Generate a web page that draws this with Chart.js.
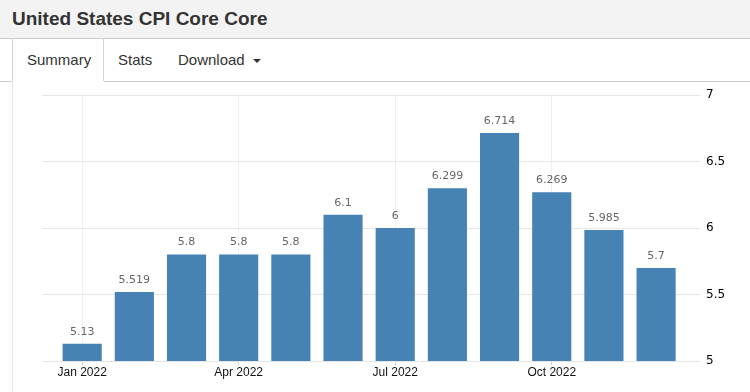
<!DOCTYPE html>
<html>
<head>
<meta charset="utf-8">
<script src="https://cdn.jsdelivr.net/npm/chart.js@4/dist/chart.umd.min.js"></script>
<style>
  html, body { margin: 0; padding: 0; background: #fff; }
  body { width: 750px; height: 392px; position: relative; overflow: hidden; font-family: "Liberation Sans", Arial, sans-serif; }
  #hdr { position: absolute; left: 0; top: 0; width: 750px; height: 38px; background: #f3f3f3; border-bottom: 1px solid #ccc; }
  #title { position: absolute; left: 12px; top: 9px; font-size: 19px; line-height: 19px; font-weight: bold; color: #333; white-space: nowrap; }
  .tab { position: absolute; top: 52px; font-size: 15px; line-height: 15px; color: #333; white-space: nowrap; }
  #caret { position: absolute; left: 253px; top: 59px; width: 0; height: 0; border-left: 4px solid transparent; border-right: 4px solid transparent; border-top: 4px solid #333; }
  .ln { position: absolute; background: #d5d5d5; }
  #chart { position: absolute; left: 0; top: 0; }
</style>
</head>
<body>
<div id="hdr"><div id="title">United States CPI Core Core</div></div>
<div class="ln" style="left:12px;top:39px;width:1px;height:42px;"></div>
<div class="ln" style="left:103px;top:39px;width:1px;height:42px;"></div>
<div class="ln" style="left:0;top:81px;width:12px;height:1px;background:#ccc;"></div>
<div class="ln" style="left:104px;top:81px;width:646px;height:1px;background:#ccc;"></div>
<div class="ln" style="left:12px;top:81px;width:1px;height:311px;background:#e8e8e8;"></div>
<div class="tab" style="left:27px;">Summary</div>
<div class="tab" style="left:118px;">Stats</div>
<div class="tab" style="left:178px;">Download</div>
<div id="caret"></div>
<canvas id="chart" width="750" height="392"></canvas>
<script>
const categories = ['Jan 2022','Feb 2022','Mar 2022','Apr 2022','May 2022','Jun 2022','Jul 2022','Aug 2022','Sep 2022','Oct 2022','Nov 2022','Dec 2022'];
const coreCpi = [5.13, 5.519, 5.8, 5.8, 5.8, 6.1, 6, 6.299, 6.714, 6.269, 5.985, 5.7];
const xTickIndex = [0, 3, 6, 9];
const yTickValues = [5, 5.5, 6, 6.5, 7];

const valueLabels = {
  id: 'valueLabels',
  afterDatasetsDraw(chart) {
    const ctx = chart.ctx;
    const meta = chart.getDatasetMeta(0);
    ctx.save();
    ctx.font = '11px "DejaVu Sans"';
    ctx.fillStyle = '#666';
    ctx.textAlign = 'center';
    ctx.textBaseline = 'middle';
    meta.data.forEach((bar, i) => ctx.fillText(String(coreCpi[i]), bar.x, bar.y - 12));
    ctx.restore();
  }
};

const xGridColor = (c) => (c.tick && xTickIndex.includes(c.tick.value)) ? '#efefef' : 'rgba(0,0,0,0)';
const xTickColor = (c) => (c.tick && xTickIndex.includes(c.tick.value)) ? '#ccc' : 'rgba(0,0,0,0)';

new Chart(document.getElementById('chart'), {
  type: 'bar',
  data: {
    datasets: [{
      data: coreCpi.map((v, i) => ({ x: i, y: v })),
      backgroundColor: '#4682b4',
      borderWidth: 0,
      barPercentage: 0.75,
      categoryPercentage: 1
    }]
  },
  options: {
    responsive: false,
    devicePixelRatio: 1,
    animation: false,
    layout: { padding: { left: 42, right: 10, top: 95, bottom: 9 } },
    plugins: { legend: { display: false }, tooltip: { enabled: false } },
    scales: {
      x: {
        type: 'linear',
        offset: false,
        min: -0.77,
        max: 11.65,
        afterBuildTicks: (scale) => { scale.ticks = xTickIndex.map(v => ({ value: v })); },
        afterFit: (scale) => { scale.height = 22; },
        grid: { offset: false, color: xGridColor, tickColor: xTickColor, tickLength: 4, drawTicks: true },
        border: { display: false },
        ticks: {
          autoSkip: false,
          maxRotation: 0,
          padding: 0,
          color: '#111',
          font: { family: '"Liberation Sans"', size: 12 },
          callback: (v) => categories[v]
        }
      },
      y: {
        position: 'right',
        min: 5,
        max: 7,
        afterBuildTicks: (scale) => { scale.ticks = yTickValues.map(v => ({ value: v })); },
        afterFit: (scale) => { scale.width = 50; },
        grid: { color: '#e6e6e6', tickColor: '#e6e6e6', tickLength: 10, drawTicks: true },
        border: { display: false },
        ticks: {
          padding: 6,
          color: '#000',
          font: { family: '"DejaVu Sans"', size: 12 },
          callback: (v) => String(v)
        }
      }
    }
  },
  plugins: [valueLabels]
});
</script>
</body>
</html>
